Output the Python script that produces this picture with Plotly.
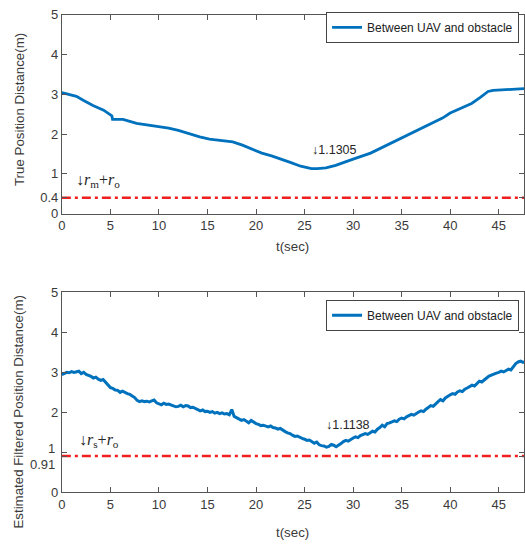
import plotly.graph_objects as go

# ---------- data ----------
top_t = [0, 0.7, 1.5, 2.2, 3.2, 4.3, 5.0, 5.15, 5.22, 6.3, 7.7, 9.0, 10.1, 11.0, 12.0,
         13.2, 14.2, 15.2, 16.4, 17.6, 18.6, 19.6, 20.6, 21.6, 22.6, 23.6, 24.6, 25.7,
         26.3, 27.2, 28.2, 29.2, 30.0, 31.8, 33.4, 35.1, 36.7, 38.3, 39.2, 40.0, 41.0,
         42.2, 43.1, 43.9, 44.4, 45.5, 46.5, 47.6]
top_d = [3.04, 3.00, 2.95, 2.85, 2.72, 2.60, 2.50, 2.46, 2.37, 2.37, 2.27, 2.22, 2.18,
         2.15, 2.09, 2.00, 1.93, 1.87, 1.84, 1.80, 1.72, 1.62, 1.52, 1.45, 1.37, 1.28,
         1.19, 1.13, 1.13, 1.15, 1.21, 1.29, 1.37, 1.52, 1.71, 1.92, 2.09, 2.29, 2.40,
         2.53, 2.63, 2.77, 2.92, 3.07, 3.10, 3.12, 3.13, 3.14]

bot_t = [i * 0.25 for i in range(192)]
bot_d = [2.94, 2.97, 3.00, 2.99, 3.02, 3.00, 3.01, 3.03, 2.97, 3.00, 2.95, 2.93,
         2.90, 2.86, 2.88, 2.83, 2.80, 2.82, 2.76, 2.68, 2.62, 2.60, 2.56, 2.55,
         2.50, 2.53, 2.49, 2.47, 2.45, 2.42, 2.37, 2.30, 2.27, 2.29, 2.27, 2.28,
         2.26, 2.29, 2.31, 2.24, 2.22, 2.19, 2.23, 2.20, 2.21, 2.18, 2.16, 2.14,
         2.15, 2.18, 2.14, 2.17, 2.16, 2.12, 2.13, 2.09, 2.07, 2.04, 2.06, 2.02,
         2.03, 2.00, 2.02, 1.98, 2.00, 1.97, 1.99, 1.96, 1.97, 1.94, 2.07, 1.90,
         1.86, 1.84, 1.80, 1.82, 1.79, 1.74, 1.80, 1.75, 1.72, 1.70, 1.67, 1.68,
         1.66, 1.64, 1.66, 1.62, 1.61, 1.58, 1.60, 1.55, 1.52, 1.49, 1.47, 1.43,
         1.40, 1.41, 1.37, 1.35, 1.33, 1.30, 1.31, 1.27, 1.23, 1.26, 1.19, 1.17,
         1.16, 1.13, 1.15, 1.20, 1.18, 1.14, 1.17, 1.22, 1.27, 1.30, 1.28, 1.33,
         1.36, 1.39, 1.37, 1.42, 1.44, 1.47, 1.45, 1.50, 1.53, 1.51, 1.58, 1.62,
         1.68, 1.64, 1.72, 1.74, 1.76, 1.79, 1.77, 1.83, 1.86, 1.84, 1.89, 1.92,
         1.95, 1.93, 1.98, 2.01, 2.04, 2.02, 2.08, 2.13, 2.17, 2.15, 2.22, 2.27,
         2.32, 2.29, 2.36, 2.41, 2.44, 2.47, 2.45, 2.51, 2.54, 2.52, 2.58, 2.61,
         2.64, 2.68, 2.66, 2.72, 2.78, 2.76, 2.82, 2.86, 2.91, 2.94, 2.96, 2.98,
         3.00, 3.03, 3.01, 3.05, 3.08, 3.06, 3.14, 3.22, 3.26, 3.28, 3.25, 3.27]

x_range = [0, 47.6]
x_ticks = [0, 5, 10, 15, 20, 25, 30, 35, 40, 45]
top_yticks = [0, 0.4, 1, 2, 3, 4, 5]
top_ylabels = ["0", "0.4", "1", "2", "3", "4", "5"]
bot_yticks = [0, 0.91, 1, 2, 3, 4, 5]
bot_ylabels = ["0", "0.91", "1", "2", "3", "4", "5"]
top_limit = 0.4
bot_limit = 0.91
top_min = 1.1305
bot_min = 1.1138
legend_name = "Between UAV and obstacle"

BLUE = "#0072BD"
RED = "#F01E1E"
AX = "#555555"
TXT = "#3a3a3a"
FONT = "Liberation Sans, Arial, sans-serif"
TICKSIZE = 13

fig = go.Figure()
fig.add_trace(go.Scatter(x=top_t, y=top_d, mode="lines", name=legend_name,
                         line=dict(color=BLUE, width=2.8), xaxis="x", yaxis="y",
                         legend="legend"))
fig.add_trace(go.Scatter(x=x_range, y=[top_limit, top_limit], mode="lines",
                         line=dict(color=RED, width=2.5, dash="9px,4px,3px,4px"),
                         showlegend=False, xaxis="x", yaxis="y"))
fig.add_trace(go.Scatter(x=bot_t, y=bot_d, mode="lines", name=legend_name,
                         line=dict(color=BLUE, width=3.0), xaxis="x2", yaxis="y2",
                         legend="legend2"))
fig.add_trace(go.Scatter(x=x_range, y=[bot_limit, bot_limit], mode="lines",
                         line=dict(color=RED, width=2.5, dash="9px,4px,3px,4px"),
                         showlegend=False, xaxis="x2", yaxis="y2"))

axis_common = dict(showline=True, linecolor=AX, linewidth=1, mirror="ticks",
                   ticks="inside", ticklen=5, tickcolor=AX, tickwidth=1,
                   showgrid=False, zeroline=False,
                   tickfont=dict(family=FONT, size=TICKSIZE, color=TXT))

# the two crowded bottom labels (1 and 0.91) are drawn as separated text, like the reference
bot_ticktext = [t if t not in ("1", "0.91") else "" for t in bot_ylabels]

xd = [58.3 / 525, 524 / 525]
fig.update_layout(
    width=525, height=552, margin=dict(l=0, r=0, t=0, b=0),
    plot_bgcolor="white", paper_bgcolor="white",
    xaxis=dict(domain=xd, range=x_range, tickvals=x_ticks, anchor="y", **axis_common),
    yaxis=dict(domain=[1 - 212.3 / 552, 1 - 8 / 552], range=[0, 5], tickvals=top_yticks,
               ticktext=top_ylabels, anchor="x", **axis_common),
    xaxis2=dict(domain=xd, range=x_range, tickvals=x_ticks, anchor="y2", **axis_common),
    yaxis2=dict(domain=[1 - 499 / 552, 1 - 293.3 / 552], range=[0, 5], tickvals=bot_yticks,
                ticktext=bot_ticktext, anchor="x2", **axis_common),
    legend=dict(x=519 / 525, xanchor="right", y=1 - 5 / 552, yanchor="top",
                bgcolor="white", bordercolor="#444444", borderwidth=1,
                font=dict(family=FONT, size=12, color="#222222"),
                tracegroupgap=0, itemwidth=30),
    legend2=dict(x=519 / 525, xanchor="right", y=1 - 301 / 552, yanchor="top",
                 bgcolor="white", bordercolor="#444444", borderwidth=1,
                 font=dict(family=FONT, size=12, color="#222222"),
                 tracegroupgap=0, itemwidth=30),
)

ann_font = dict(family=FONT, size=12.5, color="#262626")
serif = dict(family="Liberation Serif, Times New Roman, serif", size=16, color="#262626")
tick_font = dict(family=FONT, size=TICKSIZE, color=TXT)
title_font = dict(family=FONT, size=13.3, color=TXT)
annotations = [
    dict(text="↓" + f"{top_min:.4f}", x=25.6, y=1.6, xref="x", yref="y",
         xanchor="left", yanchor="middle", showarrow=False, font=ann_font),
    dict(text="↓" + f"{bot_min:.4f}", x=27.0, y=1.68, xref="x2", yref="y2",
         xanchor="left", yanchor="middle", showarrow=False, font=ann_font),
    dict(text="↓<i>r</i><sub>m</sub>+<i>r</i><sub>o</sub>", x=1.3, y=0.84, xref="x", yref="y",
         xanchor="left", yanchor="middle", showarrow=False, font=serif),
    dict(text="↓<i>r</i><sub>s</sub>+<i>r</i><sub>o</sub>", x=1.6, y=1.30, xref="x2", yref="y2",
         xanchor="left", yanchor="middle", showarrow=False, font=serif),
    dict(text="1", x=53 / 525, y=1.09, xref="paper", yref="y2",
         xanchor="right", yanchor="middle", showarrow=False, font=tick_font),
    dict(text="0.91", x=53 / 525, y=0.71, xref="paper", yref="y2",
         xanchor="right", yanchor="middle", showarrow=False, font=tick_font),
    dict(text="True Position Distance(m)", x=15 / 525, y=1 - 105 / 552, xref="paper",
         yref="paper", textangle=-90, showarrow=False, xanchor="center", yanchor="middle",
         font=title_font),
    dict(text="Estimated Filtered Position Distance(m)", x=15 / 525, y=1 - 416 / 552,
         xref="paper", yref="paper", textangle=-90, showarrow=False, xanchor="center",
         yanchor="middle", font=title_font),
    dict(text="t(sec)", x=291 / 525, y=1 - 246 / 552, xref="paper", yref="paper",
         showarrow=False, xanchor="center", yanchor="middle", font=title_font),
    dict(text="t(sec)", x=291 / 525, y=1 - 540 / 552, xref="paper", yref="paper",
         showarrow=False, xanchor="center", yanchor="middle", font=title_font),
]
fig.update_layout(annotations=annotations)

fig.write_html("out.html")
